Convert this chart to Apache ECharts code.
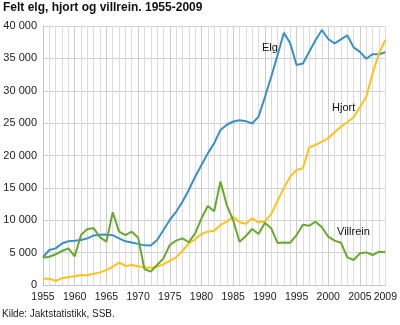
<!DOCTYPE html>
<html>
<head>
<meta charset="utf-8">
<script src="https://cdn.jsdelivr.net/npm/echarts@6/dist/echarts.min.js"></script>
<style>
  html, body { margin: 0; padding: 0; background: #fff; }
  #chart { width: 400px; height: 325px; }
</style>
</head>
<body>
<div id="chart"></div>
<script>
// Felt elg, hjort og villrein, 1955-2009 (antall dyr)
const years = [];
for (let y = 1955; y <= 2009; y++) years.push(String(y));

const elg = [
  4300, 5400, 5660, 6400, 6750, 6830, 6950, 7200, 7650, 7750,
  7780, 7700, 7200, 6750, 6550, 6350, 6120, 6100, 6950, 8500,
  10050, 11300, 12870, 14670, 16730, 18530, 20330, 21900, 23950, 24750,
  25250, 25450, 25300, 24950, 26000, 29000, 32170, 35500, 38970, 37320,
  33980, 34200, 36030, 37840, 39380, 37990, 37320, 37940, 38560, 36700,
  36000, 34950, 35650, 35650, 35940
];

const hjort = [
  950, 980, 620, 1050, 1250, 1350, 1550, 1500, 1750, 1950,
  2300, 2850, 3450, 2950, 3080, 2880, 2730, 2680, 2830, 3190,
  3750, 4270, 5250, 6430, 7050, 7880, 8240, 8390, 9270, 9780,
  10550, 9700, 9450, 10300, 9680, 9820, 10950, 13000, 15000, 16730,
  17760, 18020, 21230, 21620, 22130, 22650, 23580, 24450, 25130, 25900,
  27440, 29080, 32690, 35780, 37840
];

const villrein = [
  4220, 4370, 4740, 5250, 5660, 4420, 7720, 8650, 8750, 7350,
  6690, 11230, 8240, 7720, 8240, 7350, 2470, 2060, 3090, 4120,
  6180, 6850, 7210, 6600, 7980, 10300, 12200, 11400, 16000, 12300,
  10000, 6690, 7570, 8650, 7880, 9600, 8750, 6500, 6580, 6530,
  7720, 9320, 9150, 9780, 8910, 7460, 6850, 6530, 4270, 3860,
  4890, 5040, 4630, 5140, 5040
];

const seriesNames = ['Elg', 'Hjort', 'Villrein'];
const seriesColors = ['#3a8fc6', '#fec21a', '#67a92c'];
const yTicks = [0, 5000, 10000, 15000, 20000, 25000, 30000, 35000, 40000];

const FONT = '"Liberation Sans", Arial, sans-serif';

function fmt(v) {
  return String(v).replace(/\B(?=(\d{3})+(?!\d))/g, ' ');
}

const chart = echarts.init(document.getElementById('chart'), null, { renderer: 'canvas' });

chart.setOption({
  animation: false,
  backgroundColor: '#ffffff',
  grid: { left: 43, right: 12, top: 26, bottom: 40, containLabel: false },
  xAxis: [
    {
      type: 'category',
      data: years,
      boundaryGap: false,
      axisLine: { show: true, lineStyle: { color: '#c4c4c4', width: 1 } },
      axisTick: { show: false },
      axisLabel: {
        interval: function (i, v) { return (+v) % 5 === 0 || v === '2009'; },
        color: '#1a1a1a',
        fontFamily: FONT,
        fontSize: 10.5,
        margin: 7
      },
      splitLine: { show: true, interval: 0, lineStyle: { color: '#dcdcdc', width: 1 } }
    },
    {
      type: 'category',
      data: years,
      boundaryGap: false,
      position: 'bottom',
      axisLine: { show: false },
      axisTick: { show: false },
      axisLabel: { show: false },
      splitLine: {
        show: true,
        interval: function (i, v) { return (+v) % 5 === 0; },
        lineStyle: { color: '#cbcbcb', width: 1 }
      }
    }
  ],
  yAxis: {
    type: 'value',
    min: yTicks[0],
    max: yTicks[yTicks.length - 1],
    interval: 5000,
    axisLine: { show: true, lineStyle: { color: '#c4c4c4' } },
    axisTick: { show: false },
    axisLabel: {
      formatter: fmt,
      color: '#1a1a1a',
      fontFamily: FONT,
      fontSize: 11,
      margin: 6
    },
    splitLine: { show: true, lineStyle: { color: '#d0d0d0', width: 1 } }
  },
  series: [elg, hjort, villrein].map(function (d, i) {
    return {
      name: seriesNames[i],
      type: 'line',
      data: d,
      showSymbol: false,
      symbol: 'none',
      smooth: false,
      lineStyle: { color: seriesColors[i], width: 2 },
      z: 3 + i
    };
  }),
  graphic: [
    {
      type: 'text', left: 3, top: 2, z: 100,
      style: { text: 'Felt elg, hjort og villrein. 1955-2009', fill: '#111',
               font: 'bold 12px ' + FONT }
    },
    {
      type: 'text', left: 2, top: 309, z: 100,
      style: { text: 'Kilde: Jaktstatistikk, SSB.', fill: '#1a1a1a', font: '10px ' + FONT }
    },
    {
      type: 'text', left: 262, top: 42, z: 100,
      style: { text: seriesNames[0], fill: '#111', font: '11px ' + FONT }
    },
    {
      type: 'text', left: 332, top: 102, z: 100,
      style: { text: seriesNames[1], fill: '#111', font: '11px ' + FONT }
    },
    {
      type: 'text', left: 337, top: 226, z: 100,
      style: { text: seriesNames[2], fill: '#111', font: '11px ' + FONT }
    }
  ]
});
</script>
</body>
</html>
